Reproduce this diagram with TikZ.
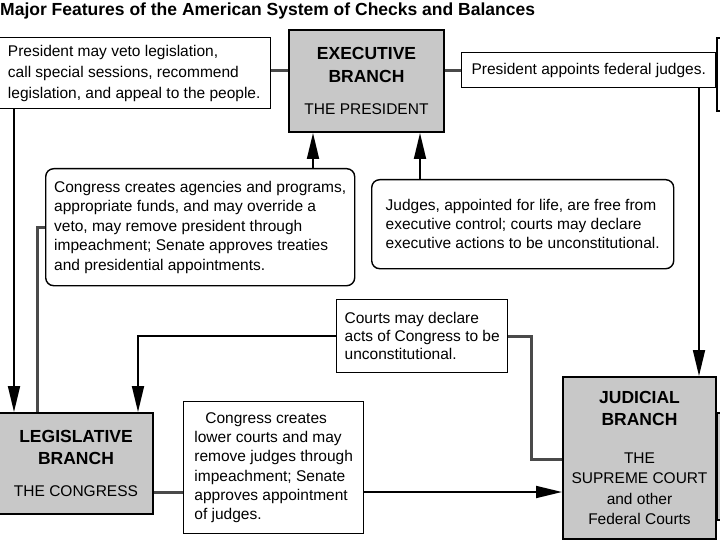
\documentclass[tikz,border=0pt]{standalone}
\usepackage{fontspec}
\setmainfont{Liberation Sans}
\usetikzlibrary{arrows.meta, positioning}
\definecolor{BranchGray}{HTML}{C8C8C8}
\definecolor{LinkGray}{HTML}{4A4A4A}

\begin{document}
\begin{tikzpicture}[x=1pt, y=-1pt,
    note/.style={draw, line width=1.4pt, fill=white, anchor=north west,
      inner sep=0pt, align=left, font=\fontsize{15.5}{19.5}\selectfont},
    roundnote/.style={note, rounded corners=8pt},
    branch/.style={draw, line width=2pt, fill=BranchGray, anchor=north west,
      inner sep=0pt, align=center},
    link/.style={line width=3pt, LinkGray},
    arr/.style={line width=1.8pt, -{Triangle[length=26pt, width=12pt]}}]
    \useasboundingbox (0,0) rectangle (720,540);
    \clip (0,0) rectangle (720,540);

    % Title
    \node[anchor=base west, inner sep=0pt, font=\bfseries\fontsize{17.5}{20}\selectfont]
      (title) at (0,16) {Major Features of the American System of Checks and Balances};

    % Branches
    \node[branch, minimum width=155pt, minimum height=102pt,
      font=\fontsize{17.5}{23}\selectfont] (exec) at (288,29)
      {\textbf{EXECUTIVE}\\ \textbf{BRANCH}\\[9pt] \fontsize{15.5}{20}\selectfont THE PRESIDENT};
    \node[branch, minimum width=154pt, minimum height=101pt,
      font=\fontsize{17.5}{22}\selectfont] (legis) at (-2,412)
      {\textbf{LEGISLATIVE}\\ \textbf{BRANCH}\\[10pt] \fontsize{15.5}{20}\selectfont THE CONGRESS};
    \node[branch, minimum width=153pt, minimum height=162pt,
      font=\fontsize{15.5}{20.5}\selectfont] (judicial) at (562,376)
      {\fontsize{17.5}{20}\selectfont\textbf{JUDICIAL}\\[1.5pt] \fontsize{17.5}{20}\selectfont\textbf{BRANCH}\\[17pt]
       THE\\ SUPREME COURT\\ and other\\ Federal Courts};

    % Checks
    \node[note, minimum width=273pt, minimum height=71pt,
      font=\fontsize{15.5}{21}\selectfont] (veto) at (-3,37)
      {President may veto legislation,\\ call special sessions, recommend\\ legislation, and appeal to the people.};
    \node[note, minimum width=254pt, minimum height=35pt] (appoint) at (461,52)
      {President appoints federal judges.};
    \node[roundnote, minimum width=309pt, minimum height=117pt] (congagency) at (45,168)
      {Congress creates agencies and programs,\\ appropriate funds, and may override a\\
       veto, may remove president through\\ impeachment; Senate approves treaties\\
       and presidential appointments.};
    \node[roundnote, minimum width=302pt, minimum height=89pt,
      font=\fontsize{15.5}{19}\selectfont] (judgesfree) at (371,179)
      {Judges, appointed for life, are free from\\ executive control; courts may declare\\
       executive actions to be unconstitutional.};
    \node[note, minimum width=171pt, minimum height=73pt,
      font=\fontsize{15.5}{18}\selectfont] (courtsdecl) at (336,299)
      {Courts may declare\\ acts of Congress to be\\ unconstitutional.};
    \node[note, minimum width=180pt, minimum height=132pt,
      font=\fontsize{15.5}{19.2}\selectfont] (lowercourts) at (183,401)
      {\hspace*{11pt}Congress creates\\ lower courts and may\\ remove judges through\\
       impeachment; Senate\\ approves appointment\\ of judges.};

    % Cut-off edges at the right
    \draw[line width=1.4pt, fill=white] (717,38) rectangle (760,111);
    \draw[line width=1.2pt, fill=BranchGray] (717,413) rectangle (760,520);

    % Connectors
    \draw[link] (veto.east |- appoint.west) -- (exec.west |- appoint.west);
    \draw[link] (exec.east |- appoint.west) -- (appoint.west);
    \draw[arr] (appoint.south -| 699,0) -- (judicial.north -| 699,0);
    \draw[arr] (veto.south -| 14,0) -- (legis.north -| 14,0);
    \draw[link] (congagency.west) -| (legis.north -| 37,0);
    \draw[arr] (congagency.north -| 313,0) -- (exec.south -| 313,0);
    \draw[arr] (judgesfree.north -| 420,0) -- (exec.south -| 420,0);
    \draw[arr] (courtsdecl.west) -| (legis.north -| 138,0);
    \draw[link] (judicial.west |- 0,459) -| (531,0 |- courtsdecl.east) -- (courtsdecl.east);
    \draw[link] (legis.east |- 0,492) -- (lowercourts.west |- 0,492);
    \draw[arr] (lowercourts.east |- 0,492) -- (judicial.west |- 0,492);
\end{tikzpicture}
\end{document}
